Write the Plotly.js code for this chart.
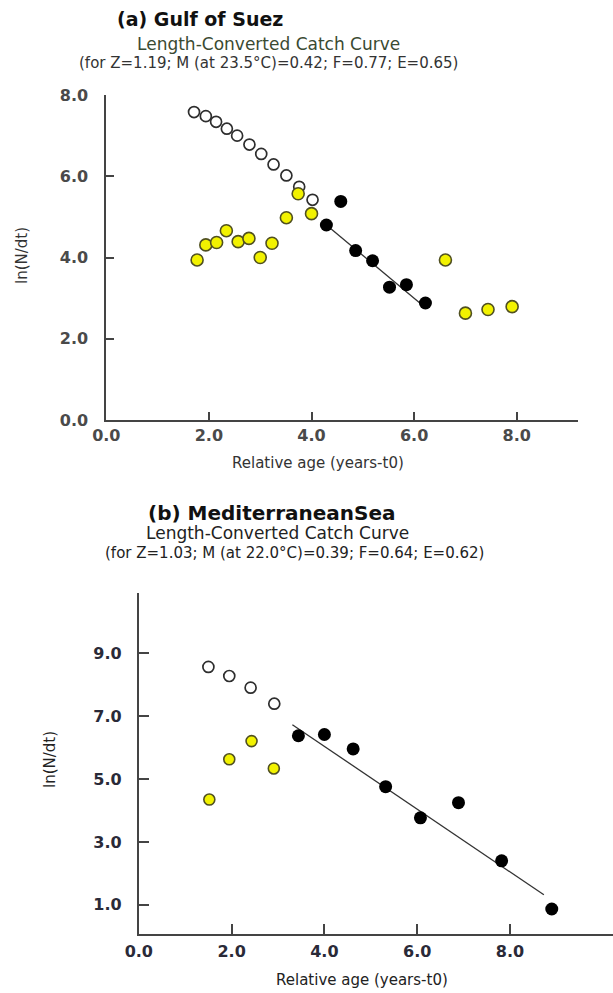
<!DOCTYPE html>
<html>
<head>
<meta charset="utf-8">
<script src="https://cdn.plot.ly/plotly-3.0.1.min.js"></script>
<style>html,body{margin:0;padding:0;background:#fff;}#chart{width:613px;height:993px;}</style>
</head>
<body>
<div id="chart"></div>
<script>
// ---- (a) Gulf of Suez ----
const aOpenX   = [1.71, 1.94, 2.14, 2.35, 2.55, 2.79, 3.02, 3.26, 3.51, 3.76, 4.02];
const aOpenY   = [7.58, 7.48, 7.34, 7.17, 7.00, 6.78, 6.55, 6.29, 6.02, 5.74, 5.42];
const aYellowX = [1.77, 1.94, 2.15, 2.34, 2.57, 2.78, 3.00, 3.23, 3.51, 3.74, 4.00, 6.61, 7.00, 7.44, 7.91];
const aYellowY = [3.94, 4.31, 4.37, 4.66, 4.39, 4.47, 4.00, 4.35, 4.98, 5.57, 5.08, 3.94, 2.63, 2.72, 2.79];
const aBlackX  = [4.29, 4.57, 4.86, 5.19, 5.52, 5.85, 6.22];
const aBlackY  = [4.80, 5.38, 4.17, 3.92, 3.27, 3.33, 2.88];
const aLineX   = [4.29, 6.14];
const aLineY   = [4.80, 2.85];
const aXTicks  = [0, 2, 4, 6, 8];
const aYTicks  = [0, 2, 4, 6, 8];

// ---- (b) Mediterranean Sea ----
const bOpenX   = [1.50, 1.95, 2.41, 2.92];
const bOpenY   = [8.57, 8.28, 7.91, 7.40];
const bYellowX = [1.52, 1.95, 2.43, 2.91];
const bYellowY = [4.35, 5.63, 6.21, 5.34];
const bBlackX  = [3.44, 4.00, 4.62, 5.32, 6.07, 6.89, 7.82, 8.90];
const bBlackY  = [6.38, 6.42, 5.96, 4.76, 3.77, 4.25, 2.40, 0.87];
const bLineX   = [3.31, 8.73];
const bLineY   = [6.73, 1.32];
const bXTicks  = [0, 2, 4, 6, 8];
const bYTicks  = [1, 3, 5, 7, 9];

const W = 613, H = 993;
const px = v => v / W;
const py = v => 1 - v / H;

const openMk = s => ({symbol: 'circle', size: s, color: '#ffffff', line: {color: '#2e2e2e', width: 1.7}});
const yelMk  = s => ({symbol: 'circle', size: s, color: '#f2f200', line: {color: '#505020', width: 1.6}});
const blkMk  = s => ({symbol: 'circle', size: s, color: '#000000', line: {color: '#000000', width: 0}});

const traces = [
  {x: aLineX, y: aLineY, xaxis: 'x', yaxis: 'y', mode: 'lines', line: {color: '#333', width: 1.3}},
  {x: aOpenX, y: aOpenY, xaxis: 'x', yaxis: 'y', mode: 'markers', marker: openMk(11)},
  {x: aYellowX, y: aYellowY, xaxis: 'x', yaxis: 'y', mode: 'markers', marker: yelMk(12)},
  {x: aBlackX, y: aBlackY, xaxis: 'x', yaxis: 'y', mode: 'markers', marker: blkMk(13)},
  {x: bLineX, y: bLineY, xaxis: 'x2', yaxis: 'y2', mode: 'lines', line: {color: '#333', width: 1.3}},
  {x: bOpenX, y: bOpenY, xaxis: 'x2', yaxis: 'y2', mode: 'markers', marker: openMk(11)},
  {x: bYellowX, y: bYellowY, xaxis: 'x2', yaxis: 'y2', mode: 'markers', marker: yelMk(11)},
  {x: bBlackX, y: bBlackY, xaxis: 'x2', yaxis: 'y2', mode: 'markers', marker: blkMk(13)}
];

const tickFontA = {family: 'DejaVu Sans', size: 16, color: '#4a4a4a', weight: 'bold'};
const tickFontB = {family: 'DejaVu Sans', size: 16, color: '#2a2a38', weight: 'bold'};

function axis(domain, range, tickvals, font, tl, standoff) {
  return {
    domain: domain, range: range, tickmode: 'array', tickvals: tickvals,
    ticktext: tickvals.map(v => v.toFixed(1)),
    showgrid: false, zeroline: false, showline: true, linecolor: '#444', linewidth: 2,
    ticks: 'inside', ticklen: tl, tickwidth: 2, tickcolor: '#444',
    tickfont: font, ticklabelstandoff: standoff, fixedrange: true
  };
}

function ann(text, x, y, size, color, bold, angle) {
  return {text: text, xref: 'paper', yref: 'paper', x: px(x), y: py(y),
    xanchor: 'center', yanchor: 'middle', showarrow: false, textangle: angle || 0,
    font: {family: 'DejaVu Sans', size: size, color: color, weight: bold ? 'bold' : 'normal'}};
}

const layout = {
  width: W, height: H, margin: {l: 0, r: 0, t: 0, b: 0},
  paper_bgcolor: '#ffffff', plot_bgcolor: 'rgba(0,0,0,0)', showlegend: false,
  xaxis: axis([px(106.3), px(577.8)], [0, 9.19], aXTicks, tickFontA, 8, 0),
  yaxis: axis([py(420), py(95)], [0, 8], aYTicks, tickFontA, 8, 13),
  xaxis2: Object.assign(axis([px(138.8), 1], [0, 10.22], bXTicks, tickFontB, 10, 2), {anchor: 'y2'}),
  yaxis2: Object.assign(axis([py(933.5), py(593)], [0.09, 10.92], bYTicks, tickFontB, 10, 12), {anchor: 'x2'}),
  annotations: [
    ann('(a) Gulf of Suez', 200, 19, 19, '#111', true),
    ann('Length-Converted Catch Curve', 268, 44, 17, '#3a4a32', false),
    ann('(for Z=1.19; M (at 23.5°C)=0.42; F=0.77; E=0.65)', 268, 63, 15, '#333', false),
    ann('Relative age (years-t0)', 318, 463, 15, '#333', false),
    ann('ln(N/dt)', 22, 255, 15, '#333', false, -90),
    ann('(b) MediterraneanSea', 272, 513, 20, '#111', true),
    ann('Length-Converted Catch Curve', 277, 533, 17, '#222', false),
    ann('(for Z=1.03; M (at 22.0°C)=0.39; F=0.64; E=0.62)', 294, 553, 15, '#222', false),
    ann('Relative age (years-t0)', 362, 980, 15, '#222', false),
    ann('ln(N/dt)', 50, 760, 15, '#222', false, -90)
  ]
};

Plotly.newPlot('chart', traces, layout, {staticPlot: true, displayModeBar: false});
</script>
</body>
</html>
